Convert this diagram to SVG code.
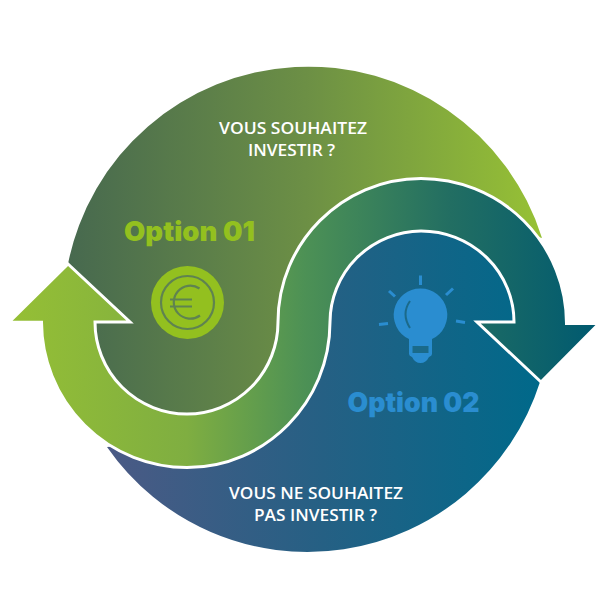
<svg xmlns="http://www.w3.org/2000/svg" width="600" height="600" viewBox="0 0 600 600">
<style>
.opt{font-family:"Inter","Liberation Sans",sans-serif;font-weight:900;font-size:27px;text-anchor:middle}
.q{font-family:"Open Sans","Liberation Sans",sans-serif;font-weight:600;font-size:16.500px;fill:#fff;text-anchor:middle}
.ray{stroke:#2a8dd0;stroke-width:3;fill:none}
.eu{stroke:#5f8350;fill:none;stroke-width:2.200}
</style>
<defs>
<linearGradient id="gt" gradientUnits="userSpaceOnUse" x1="68" y1="0" x2="542" y2="0"><stop offset="0" stop-color="#47694f"/><stop offset="0.5" stop-color="#6c8f45"/><stop offset="1" stop-color="#97c135"/></linearGradient>
<linearGradient id="gb" gradientUnits="userSpaceOnUse" x1="107" y1="0" x2="540" y2="0"><stop offset="0" stop-color="#4b5a85"/><stop offset="0.5" stop-color="#256084"/><stop offset="1" stop-color="#00698a"/></linearGradient>
<linearGradient id="gs" gradientUnits="userSpaceOnUse" x1="12" y1="0" x2="596" y2="0"><stop offset="0" stop-color="#95bf35"/><stop offset="0.3" stop-color="#7fae41"/><stop offset="0.5" stop-color="#4d9155"/><stop offset="0.75" stop-color="#226e62"/><stop offset="1" stop-color="#005a70"/></linearGradient>
</defs>
<g id="option-01-area">
<path d="M68 264A245 245 0 0 1 542 238L421 204L304 322A117 118 0 0 1 70 322Z" fill="url(#gt)"/>
</g>
<g id="option-02-area">
<path d="M540 382A244 244 0 0 1 107 447L187 440A117 118 0 0 0 304 322A117 118 0 0 1 539 322Z" fill="url(#gb)"/>
</g>
<g id="connectors">
<path d="M68 264L9 322.200L41.500 322.200A145.500 146 0 0 0 187 467.500C266 467.500 330 402 330 322A91.500 91.500 0 0 1 421 231A93 91 0 0 1 514 322L477 322L541 382L599 323.500L566.500 323.500A145.500 145 0 0 0 421 178.500C342 178.500 278 243 278 322A91 92 0 0 1 187 414A92 92 0 0 1 95 322L130 322Z" fill="url(#gs)" stroke="#fff" stroke-width="3" stroke-linejoin="miter"/>
</g>
<g id="question-top">
<text class="q" x="293" y="134" textLength="148" lengthAdjust="spacingAndGlyphs">VOUS SOUHAITEZ</text>
<text class="q" x="291.500" y="156" textLength="87" lengthAdjust="spacingAndGlyphs">INVESTIR ?</text>
</g>
<g id="question-bottom">
<text class="q" x="316" y="499" textLength="174" lengthAdjust="spacingAndGlyphs">VOUS NE SOUHAITEZ</text>
<text class="q" x="315.500" y="521" textLength="123" lengthAdjust="spacingAndGlyphs">PAS INVESTIR ?</text>
</g>
<g id="option-01">
<text class="opt" x="189.500" y="241" fill="#93c01f" textLength="131" lengthAdjust="spacingAndGlyphs">Option 01</text>
<circle cx="187.500" cy="302.500" r="36.500" fill="#93c01f"/>
<circle class="eu" cx="187.500" cy="302.500" r="26.500"/>
<path class="eu" d="M199.500 288.500A16.500 16.500 0 1 0 200 315.500M170 299.500H192M170 306.500H192"/>
</g>
<g id="option-02">
<text class="opt" x="413.500" y="412" fill="#2a8dd0" textLength="132" lengthAdjust="spacingAndGlyphs">Option 02</text>
<path d="M420.500 288.500A26.500 26.500 0 0 1 432 339V354Q432 356 429 357Q426 363 420.500 363Q415 363 412 357Q409 356 409 354V339A26.500 26.500 0 0 1 420.500 288.500Z" fill="#2a8dd0"/>
<path d="M412.500 346H428.500V353H412.500Z" fill="#1a6a8a"/>
<path d="M410 301Q401 314 410 328" fill="none" stroke="#1b6a8a" stroke-width="2"/>
<path class="ray" d="M420.500 275.500V285M389 291L395 296.500M453 288.500L446 295M379 324.500L388 323.500M456 321L465 322.500"/>
</g>
</svg>
